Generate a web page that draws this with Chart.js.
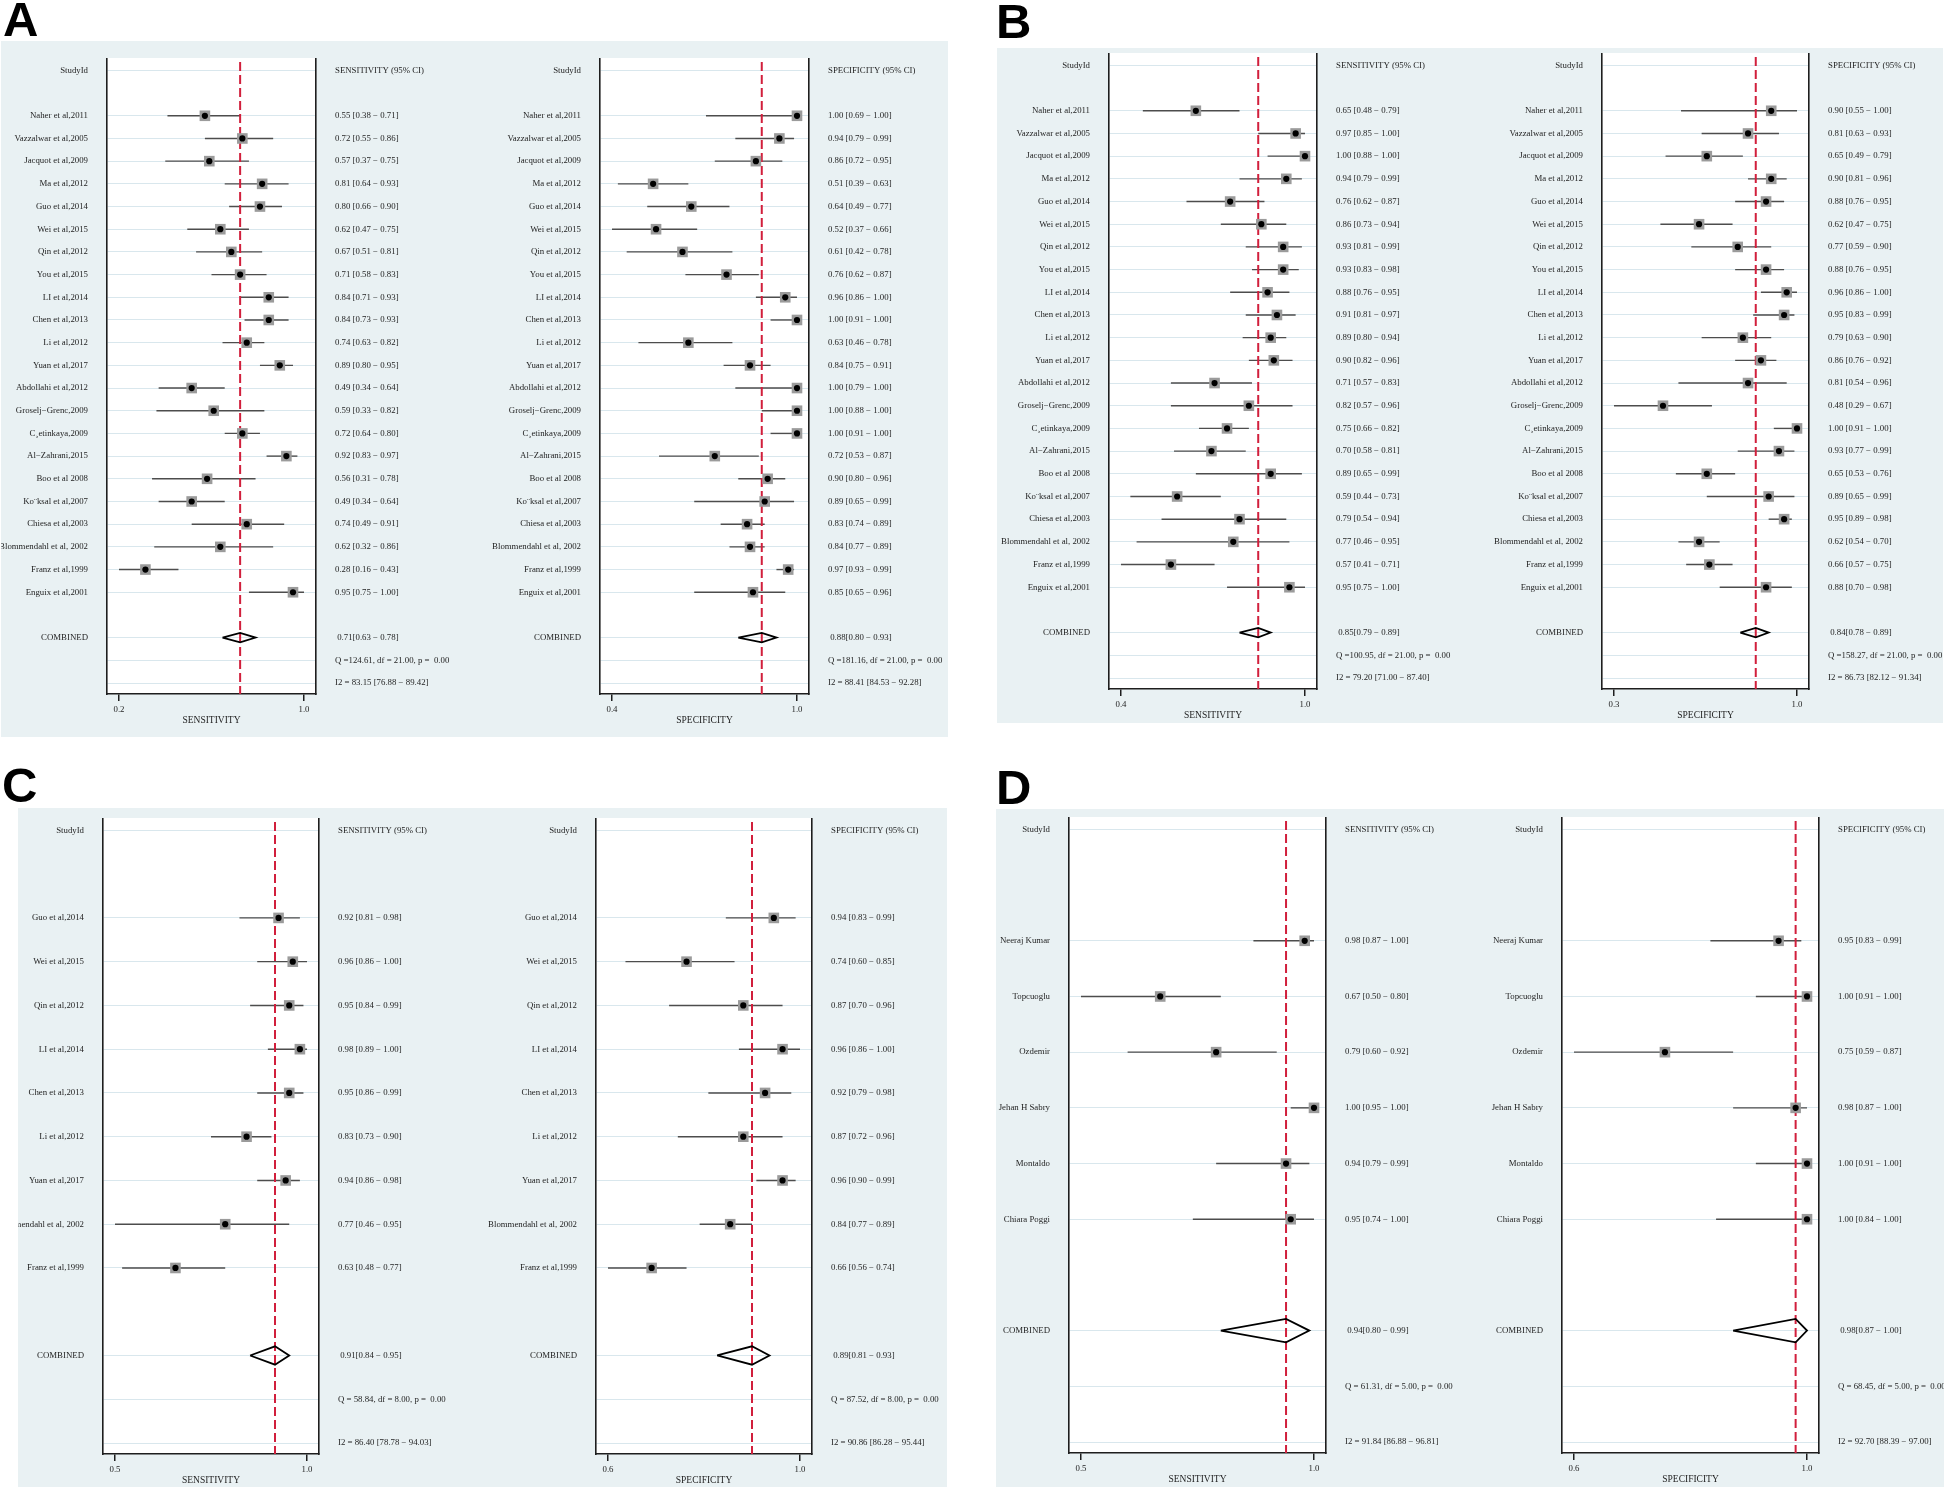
<!DOCTYPE html>
<html lang="en">
<head>
<meta charset="UTF-8">
<title>Forest plots of sensitivity and specificity</title>
<script src="https://cdn.jsdelivr.net/npm/chart.js"></script>
<style>
  html, body { margin: 0; padding: 0; background: #fff; overflow: hidden; }
  body { width: 1946px; height: 1487px; position: relative; }
  .panel { position: absolute; background: #e9f1f3; }
  .letter {
    position: absolute;
    font-family: 'Liberation Sans', Arial, sans-serif;
    font-weight: bold;
    font-size: 49px;
    line-height: 1;
    color: #000;
  }
  canvas { position: absolute; }
</style>
</head>
<body>
<div class="panel" style="left:1px;top:41px;width:947px;height:696px"></div>
<div class="panel" style="left:997px;top:48px;width:946px;height:675px"></div>
<div class="panel" style="left:18px;top:808px;width:929px;height:679px"></div>
<div class="panel" style="left:996px;top:809px;width:948px;height:678px"></div>
<div class="letter" style="left:3px;top:-5px">A</div>
<div class="letter" style="left:996px;top:-3px">B</div>
<div class="letter" style="left:2px;top:761px">C</div>
<div class="letter" style="left:996px;top:763px">D</div>

<script>
// studies in panels A and B
const studiesAB = [
  'Naher et al,2011', 'Vazzalwar et al,2005', 'Jacquot et al,2009', 'Ma et al,2012',
  'Guo et al,2014', 'Wei et al,2015', 'Qin et al,2012', 'You et al,2015',
  'LI et al,2014', 'Chen et al,2013', 'Li et al,2012', 'Yuan et al,2017',
  'Abdollahi et al,2012', 'Groselj\u2212Grenc,2009', 'C\u00B8etinkaya,2009', 'Al\u2212Zahrani,2015',
  'Boo et al 2008', 'Ko\u00A8ksal et al,2007', 'Chiesa et al,2003', 'Blommendahl et al, 2002',
  'Franz et al,1999', 'Enguix et al,2001'
];
const studiesC = [
  'Guo et al,2014', 'Wei et al,2015', 'Qin et al,2012', 'LI et al,2014', 'Chen et al,2013',
  'Li et al,2012', 'Yuan et al,2017', 'Blommendahl et al, 2002', 'Franz et al,1999'
];
const studiesD = ['Neeraj Kumar', 'Topcuoglu', 'Ozdemir', 'Jehan H Sabry', 'Montaldo', 'Chiara Poggi'];

// A - sensitivity
const aSensEst = [0.55, 0.72, 0.57, 0.81, 0.80, 0.62, 0.67, 0.71, 0.84, 0.84, 0.74, 0.89, 0.49, 0.59, 0.72, 0.92, 0.56, 0.49, 0.74, 0.62, 0.28, 0.95];
const aSensLo  = [0.38, 0.55, 0.37, 0.64, 0.66, 0.47, 0.51, 0.58, 0.71, 0.73, 0.63, 0.80, 0.34, 0.33, 0.64, 0.83, 0.31, 0.34, 0.49, 0.32, 0.16, 0.75];
const aSensHi  = [0.71, 0.86, 0.75, 0.93, 0.90, 0.75, 0.81, 0.83, 0.93, 0.93, 0.82, 0.95, 0.64, 0.82, 0.80, 0.97, 0.78, 0.64, 0.91, 0.86, 0.43, 1.00];
const aSensPooled = [0.71, 0.63, 0.78];
const aSensQ = [124.61, 21.00, 0.00];
const aSensI2 = [83.15, 76.88, 89.42];

// A - specificity
const aSpecEst = [1.00, 0.94, 0.86, 0.51, 0.64, 0.52, 0.61, 0.76, 0.96, 1.00, 0.63, 0.84, 1.00, 1.00, 1.00, 0.72, 0.90, 0.89, 0.83, 0.84, 0.97, 0.85];
const aSpecLo  = [0.69, 0.79, 0.72, 0.39, 0.49, 0.37, 0.42, 0.62, 0.86, 0.91, 0.46, 0.75, 0.79, 0.88, 0.91, 0.53, 0.80, 0.65, 0.74, 0.77, 0.93, 0.65];
const aSpecHi  = [1.00, 0.99, 0.95, 0.63, 0.77, 0.66, 0.78, 0.87, 1.00, 1.00, 0.78, 0.91, 1.00, 1.00, 1.00, 0.87, 0.96, 0.99, 0.89, 0.89, 0.99, 0.96];
const aSpecPooled = [0.88, 0.80, 0.93];
const aSpecQ = [181.16, 21.00, 0.00];
const aSpecI2 = [88.41, 84.53, 92.28];

// B - sensitivity
const bSensEst = [0.65, 0.97, 1.00, 0.94, 0.76, 0.86, 0.93, 0.93, 0.88, 0.91, 0.89, 0.90, 0.71, 0.82, 0.75, 0.70, 0.89, 0.59, 0.79, 0.77, 0.57, 0.95];
const bSensLo  = [0.48, 0.85, 0.88, 0.79, 0.62, 0.73, 0.81, 0.83, 0.76, 0.81, 0.80, 0.82, 0.57, 0.57, 0.66, 0.58, 0.65, 0.44, 0.54, 0.46, 0.41, 0.75];
const bSensHi  = [0.79, 1.00, 1.00, 0.99, 0.87, 0.94, 0.99, 0.98, 0.95, 0.97, 0.94, 0.96, 0.83, 0.96, 0.82, 0.81, 0.99, 0.73, 0.94, 0.95, 0.71, 1.00];
const bSensPooled = [0.85, 0.79, 0.89];
const bSensQ = [100.95, 21.00, 0.00];
const bSensI2 = [79.20, 71.00, 87.40];

// B - specificity
const bSpecEst = [0.90, 0.81, 0.65, 0.90, 0.88, 0.62, 0.77, 0.88, 0.96, 0.95, 0.79, 0.86, 0.81, 0.48, 1.00, 0.93, 0.65, 0.89, 0.95, 0.62, 0.66, 0.88];
const bSpecLo  = [0.55, 0.63, 0.49, 0.81, 0.76, 0.47, 0.59, 0.76, 0.86, 0.83, 0.63, 0.76, 0.54, 0.29, 0.91, 0.77, 0.53, 0.65, 0.89, 0.54, 0.57, 0.70];
const bSpecHi  = [1.00, 0.93, 0.79, 0.96, 0.95, 0.75, 0.90, 0.95, 1.00, 0.99, 0.90, 0.92, 0.96, 0.67, 1.00, 0.99, 0.76, 0.99, 0.98, 0.70, 0.75, 0.98];
const bSpecPooled = [0.84, 0.78, 0.89];
const bSpecQ = [158.27, 21.00, 0.00];
const bSpecI2 = [86.73, 82.12, 91.34];

// C - sensitivity
const cSensEst = [0.92, 0.96, 0.95, 0.98, 0.95, 0.83, 0.94, 0.77, 0.63];
const cSensLo  = [0.81, 0.86, 0.84, 0.89, 0.86, 0.73, 0.86, 0.46, 0.48];
const cSensHi  = [0.98, 1.00, 0.99, 1.00, 0.99, 0.90, 0.98, 0.95, 0.77];
const cSensPooled = [0.91, 0.84, 0.95];
const cSensQ = [58.84, 8.00, 0.00];
const cSensI2 = [86.40, 78.78, 94.03];

// C - specificity
const cSpecEst = [0.94, 0.74, 0.87, 0.96, 0.92, 0.87, 0.96, 0.84, 0.66];
const cSpecLo  = [0.83, 0.60, 0.70, 0.86, 0.79, 0.72, 0.90, 0.77, 0.56];
const cSpecHi  = [0.99, 0.85, 0.96, 1.00, 0.98, 0.96, 0.99, 0.89, 0.74];
const cSpecPooled = [0.89, 0.81, 0.93];
const cSpecQ = [87.52, 8.00, 0.00];
const cSpecI2 = [90.86, 86.28, 95.44];

// D - sensitivity
const dSensEst = [0.98, 0.67, 0.79, 1.00, 0.94, 0.95];
const dSensLo  = [0.87, 0.50, 0.60, 0.95, 0.79, 0.74];
const dSensHi  = [1.00, 0.80, 0.92, 1.00, 0.99, 1.00];
const dSensPooled = [0.94, 0.80, 0.99];
const dSensQ = [61.31, 5.00, 0.00];
const dSensI2 = [91.84, 86.88, 96.81];

// D - specificity
const dSpecEst = [0.95, 1.00, 0.75, 0.98, 1.00, 1.00];
const dSpecLo  = [0.83, 0.91, 0.59, 0.87, 0.91, 0.84];
const dSpecHi  = [0.99, 1.00, 0.87, 1.00, 1.00, 1.00];
const dSpecPooled = [0.98, 0.87, 1.00];
const dSpecQ = [68.45, 5.00, 0.00];
const dSpecI2 = [92.70, 88.39, 97.00];

const serif = "'Liberation Serif', 'Times New Roman', serif";
const ink = '#1e1e1e';
const FRAME_H = 636, AXIS_H = 36, PAD_TOP = 12.4, PAD_BOT = 11;

const fmt = v => v.toFixed(2);

// white plotting region inside the frame
const plotBg = {
  id: 'plotBg',
  beforeDraw(chart) {
    const a = chart.chartArea;
    chart.ctx.save();
    chart.ctx.fillStyle = '#fff';
    chart.ctx.fillRect(a.left, a.top, a.right - a.left, a.bottom - a.top);
    chart.ctx.restore();
  }
};

function forest(box, names, est, lo, hi, pooled, het, i2, measure) {
  const n = names.length;
  const last = n + 5;                 // header, blank, studies, blank, combined, Q, I2
  const sp = (FRAME_H - PAD_TOP - PAD_BOT) / last;
  const yMin = -PAD_TOP / sp, yMax = last + PAD_BOT / sp;
  const rows = names.map((_, i) => i + 2);
  const rowComb = n + 3;

  const leftText = { 0: 'StudyId', [rowComb]: 'COMBINED' };
  const rightText = { 0: measure + ' (95% CI)' };
  names.forEach((s, i) => {
    leftText[i + 2] = s;
    rightText[i + 2] = fmt(est[i]) + ' [' + fmt(lo[i]) + ' \u2212 ' + fmt(hi[i]) + ']';
  });
  rightText[rowComb] = ' ' + fmt(pooled[0]) + '[' + fmt(pooled[1]) + ' \u2212 ' + fmt(pooled[2]) + ']';
  rightText[n + 4] = 'Q =' + fmt(het[0]).padStart(6) + ', df = ' + fmt(het[1]) + ', p = ' + fmt(het[2]).padStart(5);
  rightText[n + 5] = 'I2 = ' + fmt(i2[0]) + ' [' + fmt(i2[1]) + ' \u2212 ' + fmt(i2[2]) + ']';
  const tickRows = [0, ...rows, rowComb, n + 4, n + 5];

  const xLo = Math.min(...lo);
  const xPad = 12 * (1 - xLo) / (box.fr - box.fl - 24);

  const cv = document.createElement('canvas');
  cv.width = box.cr - box.cl;
  cv.height = FRAME_H + AXIS_H;
  cv.style.left = box.cl + 'px';
  cv.style.top = box.top + 'px';
  document.body.appendChild(cv);

  const ciSets = rows.map((r, i) => ({
    showLine: true, data: [{ x: lo[i], y: r }, { x: hi[i], y: r }],
    borderColor: '#4d4d4d', borderWidth: 1.4, pointRadius: 0, order: 4
  }));
  const h = 0.21;
  const datasets = [
    { data: rows.map((r, i) => ({ x: est[i], y: r })), pointStyle: 'circle', pointRadius: 3.1,
      backgroundColor: '#000', borderWidth: 0, order: 0 },
    { data: rows.map((r, i) => ({ x: est[i], y: r })), pointStyle: 'rect', pointRadius: 7.5,
      backgroundColor: '#9b9b9b', borderWidth: 0, order: 1 },
    { showLine: true, pointRadius: 0, borderColor: '#000', borderWidth: 1.8, borderJoinStyle: 'miter', order: 2,
      data: [{ x: pooled[1], y: rowComb }, { x: pooled[0], y: rowComb - h }, { x: pooled[2], y: rowComb },
             { x: pooled[0], y: rowComb + h }, { x: pooled[1], y: rowComb }] },
    { showLine: true, pointRadius: 0, borderColor: '#d11f3c', borderWidth: 2, borderDash: [9, 4], order: 3,
      data: [{ x: pooled[0], y: yMin + 4 / sp }, { x: pooled[0], y: yMax }] },
    ...ciSets
  ];

  // stop the label padding from pushing the plot area inwards
  const noPad = s => { s.paddingTop = 0; s.paddingBottom = 0; s.paddingLeft = 0; s.paddingRight = 0; };

  const tickFont = { family: serif, size: 8.8 };
  new Chart(cv, {
    type: 'scatter',
    data: { datasets },
    plugins: [plotBg],
    options: {
      responsive: false,
      animation: false,
      devicePixelRatio: 1,
      events: [],
      layout: { padding: 0, autoPadding: false },
      plugins: { legend: { display: false }, tooltip: { enabled: false } },
      scales: {
        x: {
          type: 'linear', min: xLo - xPad, max: 1 + xPad,
          afterBuildTicks: s => { s.ticks = [{ value: xLo }, { value: 1 }]; },
          afterFit: s => { s.height = AXIS_H; noPad(s); },
          grid: { drawOnChartArea: false, drawTicks: true, tickLength: 7, color: ink, lineWidth: 1.5 },
          border: { display: true, color: ink, width: 1.6 },
          ticks: { callback: v => v.toFixed(1), font: tickFont, color: ink, padding: 3, maxRotation: 0, autoSkip: false },
          title: { display: true, text: measure, font: { family: serif, size: 9.5 }, color: ink, padding: { top: 0, bottom: 3.8 } }
        },
        y: {
          type: 'linear', position: 'left', reverse: true, min: yMin, max: yMax,
          afterBuildTicks: s => { s.ticks = tickRows.map(v => ({ value: v })); },
          afterFit: s => { s.width = box.fl - box.cl; noPad(s); },
          grid: { color: '#d9e7ed', lineWidth: 1, drawTicks: false },
          border: { display: true, color: ink, width: 1.6 },
          ticks: { callback: v => leftText[v] ?? '', autoSkip: false, padding: 19, font: tickFont, color: ink }
        },
        y2: {
          type: 'linear', position: 'right', reverse: true, min: yMin, max: yMax,
          afterBuildTicks: s => { s.ticks = tickRows.map(v => ({ value: v })); },
          afterFit: s => { s.width = box.cr - box.fr; noPad(s); },
          grid: { display: false, drawTicks: false },
          border: { display: true, color: ink, width: 1.6 },
          ticks: { callback: v => rightText[v] ?? '', autoSkip: false, padding: 19, font: tickFont, color: ink }
        }
      }
    }
  });
}

// canvas left/right, frame left/right, frame top
forest({ cl: 1, cr: 470, fl: 107, fr: 316, top: 58 }, studiesAB, aSensEst, aSensLo, aSensHi, aSensPooled, aSensQ, aSensI2, 'SENSITIVITY');
forest({ cl: 470, cr: 948, fl: 600, fr: 809, top: 58 }, studiesAB, aSpecEst, aSpecLo, aSpecHi, aSpecPooled, aSpecQ, aSpecI2, 'SPECIFICITY');
forest({ cl: 997, cr: 1470, fl: 1109, fr: 1317, top: 53 }, studiesAB, bSensEst, bSensLo, bSensHi, bSensPooled, bSensQ, bSensI2, 'SENSITIVITY');
forest({ cl: 1470, cr: 1943, fl: 1602, fr: 1809, top: 53 }, studiesAB, bSpecEst, bSpecLo, bSpecHi, bSpecPooled, bSpecQ, bSpecI2, 'SPECIFICITY');
forest({ cl: 18, cr: 470, fl: 103, fr: 319, top: 818 }, studiesC, cSensEst, cSensLo, cSensHi, cSensPooled, cSensQ, cSensI2, 'SENSITIVITY');
forest({ cl: 470, cr: 947, fl: 596, fr: 812, top: 818 }, studiesC, cSpecEst, cSpecLo, cSpecHi, cSpecPooled, cSpecQ, cSpecI2, 'SPECIFICITY');
forest({ cl: 996, cr: 1470, fl: 1069, fr: 1326, top: 817 }, studiesD, dSensEst, dSensLo, dSensHi, dSensPooled, dSensQ, dSensI2, 'SENSITIVITY');
forest({ cl: 1470, cr: 1944, fl: 1562, fr: 1819, top: 817 }, studiesD, dSpecEst, dSpecLo, dSpecHi, dSpecPooled, dSpecQ, dSpecI2, 'SPECIFICITY');
</script>
</body>
</html>
